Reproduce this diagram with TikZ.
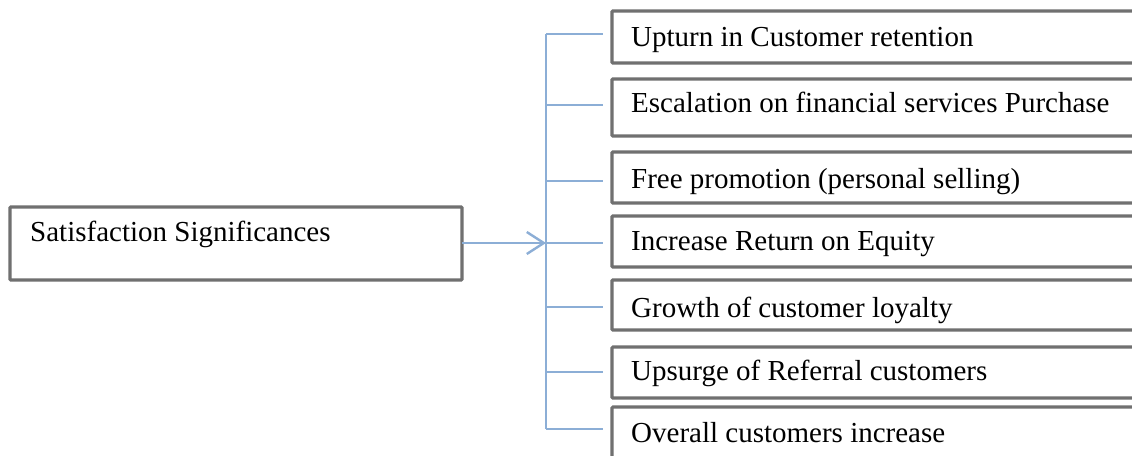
\documentclass[tikz,border=0pt]{standalone}
\usepackage{fontspec}
\setmainfont{Liberation Serif}
\usetikzlibrary{arrows.meta}
\definecolor{boxgray}{RGB}{112,112,112}
\definecolor{linkblue}{RGB}{140,174,214}
\begin{document}
\begin{tikzpicture}[x=1pt,y=-1pt,
  itembox/.style={draw=boxgray,line width=3.2pt,rounded corners=1pt},
  itemtext/.style={anchor=base west,inner sep=0pt,font=\fontsize{29}{31}\selectfont,text=black},
  link/.style={draw=linkblue,line width=2.4pt}]
\useasboundingbox (0,0) rectangle (1132,455);
\clip (0,0) rectangle (1132,455);
\fill[white] (0,0) rectangle (1132,455);
% left box
\draw[itembox] (10,207) rectangle (462,280);
\coordinate (srcE) at (462,243);
\node[itemtext] (src) at (30,241) {Satisfaction Significances};
% right boxes
\foreach \n/\t/\b/\bl/\txt in {
  1/11/63/46/{Upturn in Customer retention},
  2/79/136/112/{Escalation on financial services Purchase},
  3/152/203/188/{Free promotion (personal selling)},
  4/216/267/250/{Increase Return on Equity},
  5/280/330/317/{Growth of customer loyalty},
  6/347/398/380/{Upsurge of Referral customers},
  7/407/470/442/{Overall customers increase}}{
  \draw[itembox] (612,\t) rectangle (1160,\b);
  \node[itemtext] (t\n) at (631,\bl) {\txt};
}
% connectors
\coordinate (hub) at (546,243);
\coordinate (top) at (546,34);
\coordinate (bot) at (546,429);
\draw[link] (top) -- (bot);
\foreach \n/\y in {1/34,2/105,3/181,4/243,5/307,6/372,7/429}{
  \coordinate (b\n) at (603,\y);
  \draw[link] (546,\y) -- (b\n);
}
\draw[link,-{Straight Barb[length=17pt,width=22pt,line width=2.4pt]}] (srcE) -- (hub);
\end{tikzpicture}
\end{document}
